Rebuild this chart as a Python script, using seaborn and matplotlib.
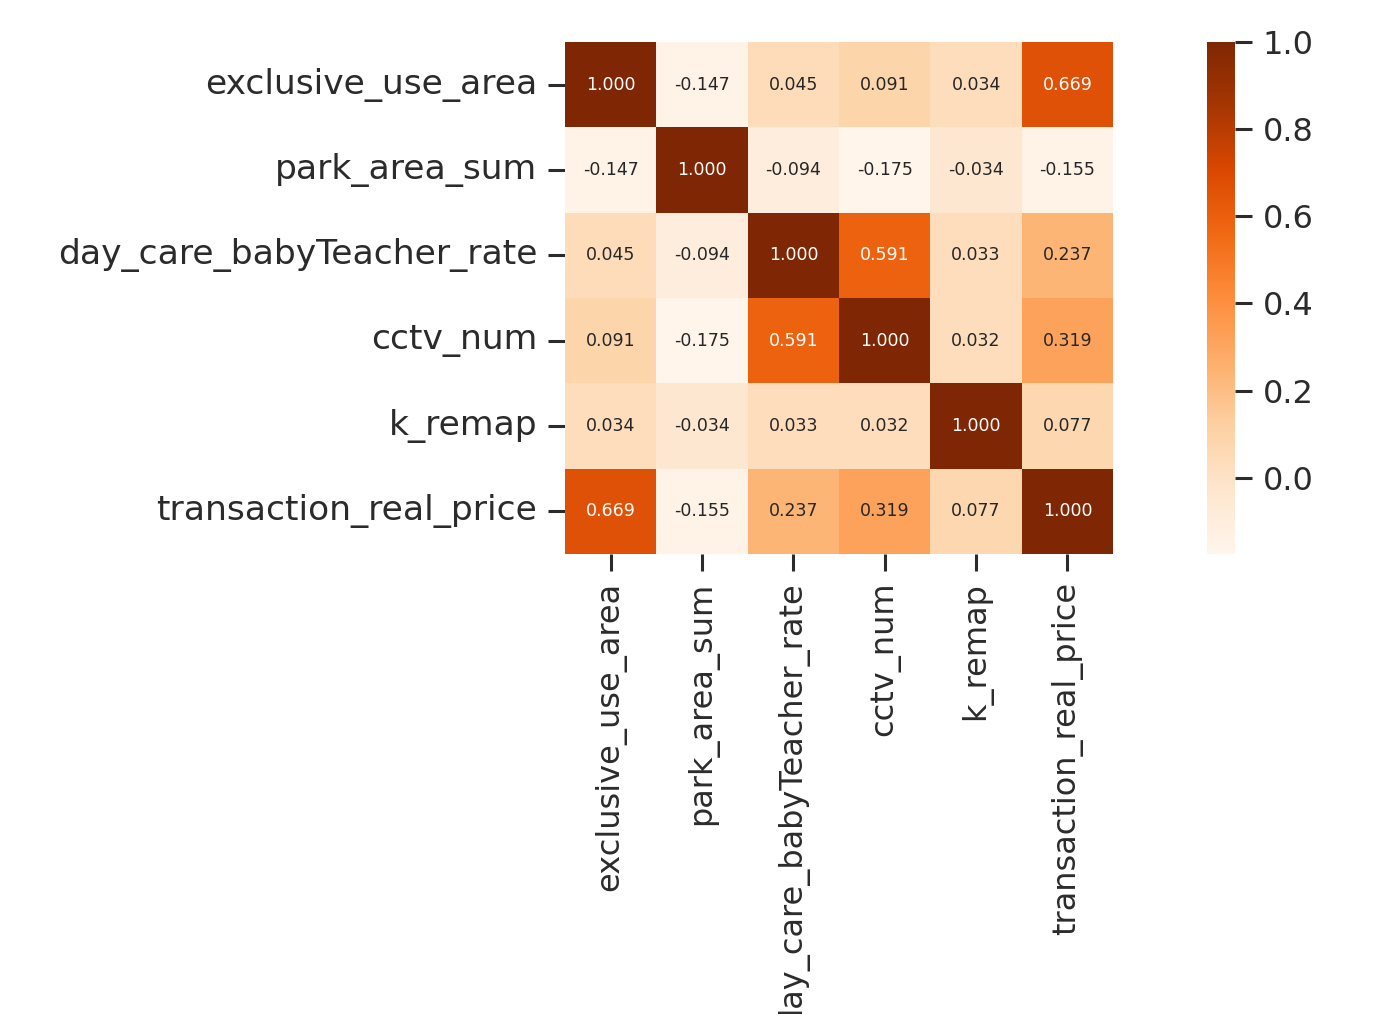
import matplotlib
matplotlib.use("Agg")
import matplotlib.pyplot as plt
import numpy as np
import pandas as pd
import seaborn as sns

# Feature names (rows and columns of the correlation matrix)
features = [
    "exclusive_use_area",
    "park_area_sum",
    "day_care_babyTeacher_rate",
    "cctv_num",
    "k_remap",
    "transaction_real_price",
]

# Pairwise Pearson correlations, one list per row
row_exclusive_use_area = [1.000, -0.147, 0.045, 0.091, 0.034, 0.669]
row_park_area_sum = [-0.147, 1.000, -0.094, -0.175, -0.034, -0.155]
row_day_care_rate = [0.045, -0.094, 1.000, 0.591, 0.033, 0.237]
row_cctv_num = [0.091, -0.175, 0.591, 1.000, 0.032, 0.319]
row_k_remap = [0.034, -0.034, 0.033, 0.032, 1.000, 0.077]
row_transaction_price = [0.669, -0.155, 0.237, 0.319, 0.077, 1.000]

# Colorbar ticks
cbar_ticks = [0.0, 0.2, 0.4, 0.6, 0.8, 1.0]

corr = pd.DataFrame(
    [
        row_exclusive_use_area,
        row_park_area_sum,
        row_day_care_rate,
        row_cctv_num,
        row_k_remap,
        row_transaction_price,
    ],
    index=features,
    columns=features,
)

sns.set_style("ticks")
plt.rcParams["font.family"] = ["DejaVu Sans"]
plt.rcParams["text.color"] = "#2b2b2b"
plt.rcParams["xtick.color"] = "#2b2b2b"
plt.rcParams["ytick.color"] = "#2b2b2b"
plt.rcParams["xtick.major.size"] = 12
plt.rcParams["ytick.major.size"] = 12
plt.rcParams["xtick.major.width"] = 2.2
plt.rcParams["ytick.major.width"] = 2.2
plt.rcParams["xtick.major.pad"] = 8
plt.rcParams["ytick.major.pad"] = 8

fig = plt.figure(figsize=(13.83, 10.14), dpi=100, facecolor="white")
ax = fig.add_axes([0.4085, 0.4536, 0.3964, 0.5050])
cax = fig.add_axes([0.8727, 0.4536, 0.0203, 0.5050])

sns.heatmap(
    corr,
    ax=ax,
    cbar_ax=cax,
    cmap="Oranges",
    annot=True,
    fmt=".3f",
    annot_kws={"size": 12.5},
)

ax.set_xticklabels(features, rotation=90, fontsize=23)
ax.set_yticklabels(features, rotation=0, fontsize=24.8)

cax.tick_params(labelsize=23, length=12, width=2.2, pad=8)
cax.set_yticks(cbar_ticks)
cax.set_yticklabels([f"{t:.1f}" for t in cbar_ticks])

fig.savefig("out.png", dpi=100, facecolor="white")
